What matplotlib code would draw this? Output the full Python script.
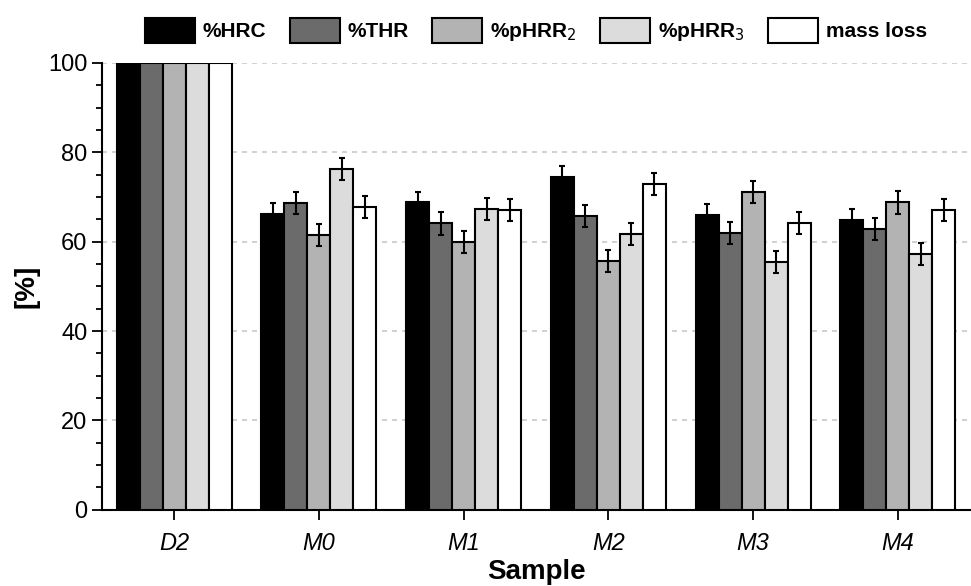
import matplotlib.pyplot as plt
import numpy as np

plt.rcParams['font.family'] = ['Liberation Sans', 'DejaVu Sans']

samples = ["D2", "M0", "M1", "M2", "M3", "M4"]
series = ["%HRC", "%THR", "%pHRR$_2$", "%pHRR$_3$", "mass loss"]

hrc = [100, 66.2, 68.8, 74.4, 66.0, 64.9]
thr = [100, 68.6, 64.1, 65.8, 61.9, 62.8]
phrr2 = [100, 61.5, 60.0, 55.7, 71.1, 68.8]
phrr3 = [100, 76.3, 67.3, 61.7, 55.5, 57.3]
mass_loss = [100, 67.7, 67.1, 72.9, 64.2, 67.1]

err_hrc = [0, 2.5, 2.4, 2.5, 2.5, 2.5]
err_thr = [0, 2.5, 2.5, 2.5, 2.5, 2.5]
err_phrr2 = [0, 2.5, 2.5, 2.5, 2.5, 2.5]
err_phrr3 = [0, 2.5, 2.5, 2.5, 2.5, 2.5]
err_mass = [0, 2.5, 2.5, 2.5, 2.5, 2.5]

values = [hrc, thr, phrr2, phrr3, mass_loss]
errors = [err_hrc, err_thr, err_phrr2, err_phrr3, err_mass]
colors = ["#000000", "#6b6b6b", "#b3b3b3", "#dcdcdc", "#ffffff"]

fig = plt.figure(figsize=(9.71, 5.86), dpi=100)
ax = fig.add_axes([0.105, 0.130, 0.894, 0.7625])

x = np.arange(len(samples))
w = 0.159
for i, (vals, errs) in enumerate(zip(values, errors)):
    pos = x + (i - 2) * w
    ax.bar(pos, vals, w, color=colors[i], edgecolor="black", linewidth=1.5,
           label=series[i], zorder=3)
    ax.errorbar(pos[1:], vals[1:], yerr=errs[1:], fmt="none", ecolor="black",
                elinewidth=1.5, capsize=2.5, capthick=1.5, zorder=4)

ax.set_xlim(-0.5, 5.5)
ax.set_ylim(0, 100)
ax.set_yticks([0, 20, 40, 60, 80, 100])
ax.set_yticks(np.arange(0, 101, 5), minor=True)
ax.set_xticks(x)
ax.set_xticklabels(samples, fontstyle="italic")
ax.tick_params(axis="both", labelsize=17, width=1.3, length=7, direction="out")
ax.tick_params(axis="y", which="minor", width=1.3, length=4)
ax.tick_params(axis="x", pad=9)
ax.yaxis.grid(True, linestyle=(0, (3, 3)), color="#c8c8c8", linewidth=1.2, zorder=0)

for s in ["top", "right"]:
    ax.spines[s].set_visible(False)
for s in ["left", "bottom"]:
    ax.spines[s].set_linewidth(1.5)

ax.set_xlabel("Sample", fontsize=20, fontweight="bold", labelpad=3)
ax.set_ylabel("[%]", fontsize=20, fontweight="bold", labelpad=6)

leg = ax.legend(loc="lower center", bbox_to_anchor=(0.5, 1.025), ncol=5, frameon=False,
                prop={"weight": "bold", "size": 15}, handlelength=2.4, handleheight=1.5,
                columnspacing=1.1, handletextpad=0.4, borderaxespad=0)
for p in leg.get_patches():
    p.set_linewidth(1.5)

plt.savefig("out.png", dpi=100)
